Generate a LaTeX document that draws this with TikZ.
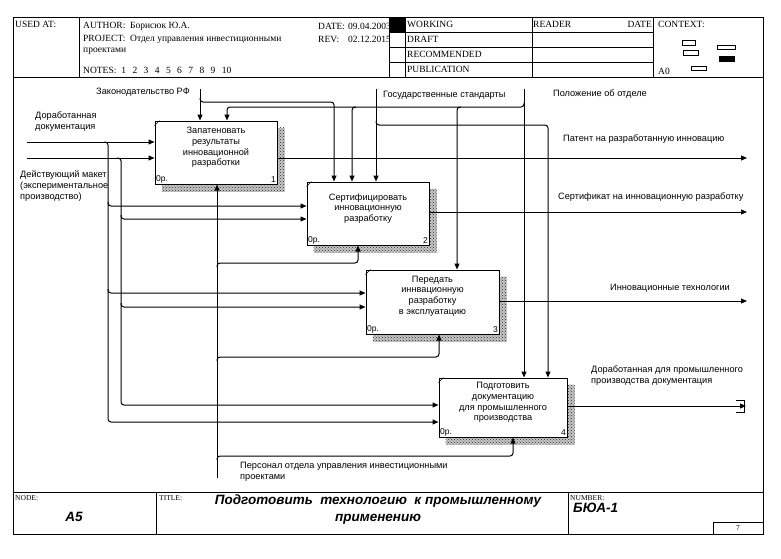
\documentclass[tikz,border=0pt]{standalone}
\usepackage{fontspec}
\setmainfont{Liberation Sans}
\newfontfamily\hdrfont{Liberation Serif}
\usetikzlibrary{arrows.meta,patterns,backgrounds,positioning}
\newcommand\nsp{\hspace{6.4pt}}

\begin{document}
\begin{tikzpicture}[x=1pt, y=-1pt,
  func/.style={draw, line width=1pt, fill=white, inner sep=0pt},
  txt/.style={inner sep=0pt, align=center, font=\fontsize{9.2}{10.6}\selectfont},
  lbl/.style={inner sep=0pt, anchor=west, align=left, font=\fontsize{9.2}{11}\selectfont},
  corner/.style={inner sep=1.5pt, font=\fontsize{8.5}{9}\selectfont},
  hdr/.style={inner sep=0pt, anchor=west, font=\hdrfont\fontsize{9.5}{11}\selectfont},
  tiny/.style={inner sep=0pt, anchor=west, font=\hdrfont\fontsize{7.5}{9}\selectfont},
  big/.style={inner sep=0pt, font=\bfseries\itshape\fontsize{13.5}{17}\selectfont},
  arr/.style={line width=1pt, -{Triangle[length=6pt,width=5pt]}},
  branch/.style={arr, rounded corners=3pt},
  frame/.style={line width=0.8pt}
]

\useasboundingbox (0,0) rectangle (781,558);

% frame and header
\draw[frame] (13,17) rectangle (763,534);
\draw[frame] (13,77) -- (763,77);
\draw[frame] (13,492) -- (763,492);
\foreach \x in {79,389,405,532,653}
  \draw[frame] (\x,17) -- (\x,77);
\foreach \y in {32,47,62}
  \draw[frame] (389,\y) -- (653,\y);
\draw[frame] (156,492) -- (156,534);
\draw[frame] (568,492) -- (568,534);
\draw[frame] (713,522) rectangle (763,534);

\node[hdr] (usedat) at (15,24) {USED AT:};
\node[hdr] (author) at (83,26) {AUTHOR:\ \ Борисюк Ю.А.};
\node[hdr] (project) at (83,39) {PROJECT:\ \ Отдел управления инвестиционными};
\node[hdr] (project2) at (83,51) {проектами};
\node[hdr] (notes) at (83,70) {NOTES:\hspace{5pt}1\nsp 2\nsp 3\nsp 4\nsp 5\nsp 6\nsp 7\nsp 8\nsp 9\nsp 10};
\begin{scope}
\clip (79,17) rectangle (389,77);
\node[hdr] (date) at (318,26) {DATE:};
\node[hdr] (dateval) at (348,26) {09.04.2003};
\node[hdr] (rev) at (318,39) {REV:};
\node[hdr] (revval) at (348,39) {02.12.2015};
\end{scope}
\fill (389,17) rectangle (405,32);

\node[hdr] (working) at (407,24.5) {WORKING};
\node[hdr] (draft) at (407,39.5) {DRAFT};
\node[hdr] (recom) at (407,54.5) {RECOMMENDED};
\node[hdr] (publ) at (407,69.5) {PUBLICATION};
\node[hdr] (reader) at (533,24.5) {READER};
\node[hdr, anchor=east] (rdate) at (652,24.5) {DATE};
\node[hdr] (context) at (658,24.5) {CONTEXT:};
\node[hdr] (azero) at (658,71) {A0};

\draw[line width=0.7pt] (682,40) rectangle (695,45);
\draw[line width=0.7pt] (683,50) rectangle (698,55);
\draw[line width=0.7pt] (717,45) rectangle (735,49);
\fill (719,56) rectangle (735,62);
\draw[line width=0.7pt] (691,66) rectangle (706,70);

% title block
\node[tiny] (nodelbl) at (15,498) {NODE:};
\node[tiny] (titlelbl) at (159,498) {TITLE:};
\node[tiny] (numberlbl) at (570,498) {NUMBER:};
\node[big] (nodeval) at (74,517) {A5};
\node[big, align=center] (titleval) at (378,509.5) {Подготовить~~технологию~~к промышленному\\применению};
\node[big, anchor=west] (numberval) at (573,508) {БЮА-1};
\node[tiny, anchor=center] (page) at (738,528) {7};

% functions
\node[func, minimum width=122pt, minimum height=63pt] (box1) at (216,152.5) {};
\node[func, minimum width=122pt, minimum height=63pt] (box2) at (368,213.5) {};
\node[func, minimum width=133pt, minimum height=64pt] (box3) at (432.5,302) {};
\node[func, minimum width=128pt, minimum height=59pt] (box4) at (503,407.5) {};

\begin{scope}[on background layer]
\foreach \b in {box1,box2,box3,box4} {
  \fill[black!22] ([shift={(7,7)}]\b.north west) rectangle ([shift={(7,7)}]\b.south east);
  \fill[pattern=crosshatch dots, pattern color=black!85]
    ([shift={(7,7)}]\b.north west) rectangle ([shift={(7,7)}]\b.south east);
}
\end{scope}

\node[txt] (t1) at ([yshift=5pt]box1.center) {Запатеновать\\результаты\\инновационной\\разработки};
\node[txt] (t2) at ([yshift=5pt]box2.center) {Сертифицировать\\инновационную\\разработку};
\node[txt] (t3) at ([yshift=6pt]box3.center) {Передать\\иннвационную\\разработку\\в эксплуатацию};
\node[txt] (t4) at ([yshift=5pt]box4.center) {Подготовить\\документацию\\для промышленного\\производства};

\foreach \b/\n in {box1/1,box2/2,box3/3,box4/4} {
  \node[corner, anchor=south west] (\b-cost) at (\b.south west) {0р.};
  \node[corner, anchor=south east] (\b-num) at (\b.south east) {\n};
  \draw[line width=0.5pt] ([yshift=-5pt]\b.north west) -- ([xshift=5pt]\b.north west);
}

% inputs
\coordinate (doc) at (27,142);
\coordinate (maket) at (27,158);
\draw[arr] (doc) -- (doc -| box1.west);
\draw[arr] (maket) -- (maket -| box1.west);
\draw[branch] (104,142) -- (108,142) -- (108,422) -- (box4.west |- 0,422);
\draw[branch] (108,202) -- (108,206) -- (box2.west |- 0,206);
\draw[branch] (108,289) -- (108,293) -- (box3.west |- 0,293);
\draw[branch] (117,158) -- (121,158) -- (121,405) -- (box4.west |- 0,405);
\draw[branch] (121,215) -- (121,219) -- (box2.west |- 0,219);
\draw[branch] (121,303) -- (121,307) -- (box3.west |- 0,307);

% mechanism
\coordinate (pers) at (217,478);
\draw[arr] (pers) -- (pers |- box1.south);
\draw[branch] (217,267) -- (217,263) -- (358,263) -- (box2.south -| 358,0);
\draw[branch] (217,361) -- (217,357) -- (439,357) -- (box3.south -| 439,0);
\draw[branch] (217,460) -- (217,456) -- (513,456) -- (box4.south -| 513,0);

% controls
\coordinate (zak) at (200,89);
\coordinate (gos) at (376,89);
\coordinate (pol) at (524,89);
\draw[arr] (zak) -- (zak |- box1.north);
\draw[branch] (200,98) -- (200,102) -- (334,102) -- (box2.north -| 334,0);
\draw[arr] (gos) -- (gos |- box2.north);
\draw[branch] (376,121) -- (376,125) -- (548,125) -- (box4.north -| 548,0);
\draw[arr] (pol) -- (pol |- box4.north);
\draw[branch] (524,103) -- (524,107) -- (227,107) -- (box1.north -| 227,0);
\draw[branch] (356,107) -- (352,107) -- (box2.north -| 352,0);
\draw[branch] (461,107) -- (457,107) -- (box3.north -| 457,0);

% outputs
\coordinate (patent) at (747,158);
\coordinate (sert) at (747,212);
\coordinate (tech) at (747,301);
\coordinate (docout) at (746,406);
\draw[arr] (box1.east |- patent) -- (patent);
\draw[arr] (box2.east |- sert) -- (sert);
\draw[arr] (box3.east |- tech) -- (tech);
\draw[arr] (box4.east |- docout) -- (docout);
\draw[line width=0.8pt] (736,400) -- (744,400) -- (744,412) -- (736,412);

% labels
\node[lbl] (lzak) at (96,92) {Законодательство РФ};
\node[lbl] (lgos) at (383,95) {Государственные стандарты};
\node[lbl] (lpol) at (553,94) {Положение об отделе};
\node[lbl] (ldoc) at (35,122) {Доработанная\\документация};
\node[lbl] (lmaket) at (20,186.5) {Действующий макет\\(экспериментальное\\производство)};
\node[lbl] (lpatent) at (563,139) {Патент на разработанную инновацию};
\node[lbl] (lsert) at (558,197) {Сертификат на инновационную разработку};
\node[lbl] (ltech) at (610,288) {Инновационные технологии};
\node[lbl] (ldocout) at (591,376) {Доработанная для промышленного\\производства документация};
\node[lbl] (lpers) at (240,471.5) {Персонал отдела управления инвестиционными\\проектами};

\end{tikzpicture}
\end{document}
